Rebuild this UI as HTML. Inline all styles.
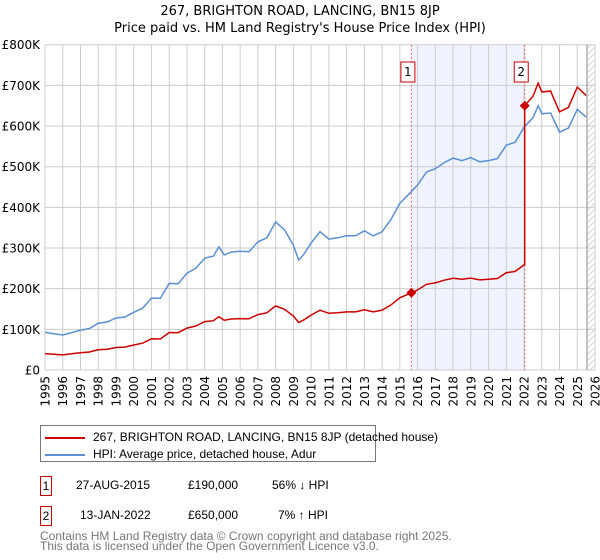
<!DOCTYPE html>
<html><head><meta charset="utf-8"><style>
body{margin:0;background:#fff;font-family:"Liberation Sans","DejaVu Sans",sans-serif;}
#wrap{position:relative;width:600px;height:560px;overflow:hidden;}
svg text{font-family:"DejaVu Sans","Liberation Sans",sans-serif;}
.c{position:absolute;white-space:nowrap;}
</style></head><body>
<div id="wrap">
<svg id="chart" width="600" height="560"></svg>
</div>
<script>
const hpiYears=[1995,1995.5,1996,1996.5,1997,1997.5,1998,1998.5,1999,1999.5,2000,2000.5,2001,2001.5,2002,2002.5,2003,2003.5,2004,2004.5,2004.8,2005.1,2005.5,2006,2006.5,2007,2007.5,2008,2008.5,2009,2009.3,2009.6,2010,2010.5,2011,2011.5,2012,2012.5,2013,2013.5,2014,2014.5,2015,2015.5,2016,2016.5,2017,2017.5,2018,2018.5,2019,2019.5,2020,2020.5,2021,2021.5,2022,2022.5,2022.8,2023,2023.5,2024,2024.5,2025,2025.5];
const hpiValues=[93,89,86,92,98,102,115,118,128,130,142,152,177,176,213,212,238,250,275,280,303,283,290,292,291,315,325,364,345,307,270,285,312,340,322,325,330,330,342,330,340,370,410,432,455,487,495,510,521,515,522,512,515,520,553,560,597,620,650,630,632,585,595,641,622];
const saleDates=[2015.65,2022.04];
const salePrices=[190,650];
const saleLabels=["1","2"];
const yTicks=[0,100,200,300,400,500,600,700,800];
const yTickLabels=["£0","£100K","£200K","£300K","£400K","£500K","£600K","£700K","£800K"];
const xTicks=[1995,1996,1997,1998,1999,2000,2001,2002,2003,2004,2005,2006,2007,2008,2009,2010,2011,2012,2013,2014,2015,2016,2017,2018,2019,2020,2021,2022,2023,2024,2025,2026];

const svg=document.getElementById('chart');
const NS='http://www.w3.org/2000/svg';
const X0=45,X1=595,Y0=370,Y1=44.7;
const xs=v=>X0+(v-1995)/(2026-1995)*(X1-X0);
const ys=v=>Y0-v/800*(Y0-Y1);
function mk(tag,attrs,parent){const e=document.createElementNS(NS,tag);for(const k in attrs)e.setAttribute(k,attrs[k]);(parent||svg).appendChild(e);return e;}
function hpiAt(t){for(let i=0;i<hpiYears.length-1;i++){if(t>=hpiYears[i]&&t<=hpiYears[i+1]){const f=(t-hpiYears[i])/(hpiYears[i+1]-hpiYears[i]);return hpiValues[i]+f*(hpiValues[i+1]-hpiValues[i]);}}return hpiValues[hpiValues.length-1];}

let t;
t=mk('text',{x:300,y:15,'text-anchor':'middle','font-size':'13',fill:'#000'});t.textContent='267, BRIGHTON ROAD, LANCING, BN15 8JP';


t=mk('text',{x:300,y:32,'text-anchor':'middle','font-size':'13',fill:'#000'});t.textContent="Price paid vs. HM Land Registry's House Price Index (HPI)";



let r=mk('rect',{x:xs(saleDates[0]),y:Y1,width:xs(saleDates[1])-xs(saleDates[0]),height:Y0-Y1,fill:'#eef3fd'});


const defs=mk('defs',{});
const pat=mk('pattern',{id:'hatch',width:6,height:6,patternUnits:'userSpaceOnUse'},defs);
mk('path',{d:'M0,6 L6,0',stroke:'#ccc','stroke-width':0.8},pat);
r=mk('rect',{x:xs(2025.55),y:Y1,width:X1-xs(2025.55),height:Y0-Y1,fill:'url(#hatch)'});



yTicks.forEach((v,i)=>{
 const l=mk('line',{x1:X0,x2:X1,y1:ys(v),y2:ys(v),stroke:'#cccccc','stroke-width':1});
 
 
 const tx=mk('text',{x:40,y:ys(v)+4.5,'text-anchor':'end','font-size':'12',fill:'#000'});tx.textContent=yTickLabels[i];
 
 
});
xTicks.forEach(v=>{
 const l=mk('line',{x1:xs(v),x2:xs(v),y1:Y1,y2:Y0,stroke:'#cccccc','stroke-width':1});
 
 
 const tx=mk('text',{x:0,y:0,'text-anchor':'end','font-size':'12',fill:'#000',transform:`translate(${xs(v)+4.5},376) rotate(-90)`});tx.textContent=v;
 
 
});
let l=mk('line',{x1:xs(2025.55),x2:xs(2025.55),y1:Y1,y2:Y0,stroke:'#888','stroke-width':1});



saleDates.forEach((d,i)=>{
 const ln=mk('line',{x1:xs(d),x2:xs(d),y1:Y1,y2:Y0,stroke:'#e06060','stroke-width':1,'stroke-dasharray':'2,2'});
 
 
 const bx=mk('rect',{x:xs(d)-10.5,y:62,width:14,height:20,fill:'#fff',stroke:'#cc0000','stroke-width':1});
 
 
 const tx=mk('text',{x:xs(d)-3.5,y:76,'text-anchor':'middle','font-size':'12',fill:'#000'});tx.textContent=saleLabels[i];
 
 
});

let d='';hpiYears.forEach((yr,i)=>{d+=(i?'L':'M')+xs(yr).toFixed(1)+','+ys(hpiValues[i]).toFixed(1);});
let p=mk('path',{d,fill:'none',stroke:'#5b8fd4','stroke-width':1.5});



const r0=salePrices[0]/hpiAt(saleDates[0]);
const r1=salePrices[1]/hpiAt(saleDates[1]);
d='';let first=true;
hpiYears.forEach((yr,i)=>{
 if(yr<saleDates[1]){d+=(first?'M':'L')+xs(yr).toFixed(1)+','+ys(hpiValues[i]*r0).toFixed(1);first=false;}
});
d+='L'+xs(saleDates[1]).toFixed(1)+','+ys(hpiAt(saleDates[1])*r0).toFixed(1);
d+='L'+xs(saleDates[1]).toFixed(1)+','+ys(salePrices[1]).toFixed(1);
hpiYears.forEach((yr,i)=>{if(yr>saleDates[1])d+='L'+xs(yr).toFixed(1)+','+ys(hpiValues[i]*r1).toFixed(1);});
p=mk('path',{d,fill:'none',stroke:'#cc0000','stroke-width':1.5});


saleDates.forEach((dd,i)=>{
 const c=mk('path',{d:`M${xs(dd)},${ys(salePrices[i])-5}l5,5l-5,5l-5,-5z`,fill:'#cc0000'});
 
 
});
</script>
<div style="position:absolute;left:40px;top:425px;width:334px;height:35px;border:1px solid #777;font-size:12px;">
 <div class="c" style="left:4px;top:4px;"><span style="display:inline-block;width:40px;height:2px;background:#cc0000;vertical-align:middle;margin-right:8px;"></span>267, BRIGHTON ROAD, LANCING, BN15 8JP (detached house)</div>
 <div class="c" style="left:4px;top:21px;"><span style="display:inline-block;width:40px;height:2px;background:#5b8fd4;vertical-align:middle;margin-right:8px;"></span>HPI: Average price, detached house, Adur</div>
</div>
<div style="position:absolute;left:0;top:0;font-size:12px;">
 <div>
  <div class="c" style="left:40px;top:476px;width:10px;height:18px;border:1px solid #cc0000;text-align:center;line-height:18px;">1</div>
  <div class="c" style="left:76px;top:478px;">27-AUG-2015</div>
  <div class="c" style="left:188px;top:478px;">£190,000</div>
  <div class="c" style="left:272px;top:478px;">56% ↓ HPI</div>
 </div>
 <div>
  <div class="c" style="left:40px;top:506px;width:10px;height:18px;border:1px solid #cc0000;text-align:center;line-height:18px;">2</div>
  <div class="c" style="left:80px;top:508px;">13-JAN-2022</div>
  <div class="c" style="left:188px;top:508px;">£650,000</div>
  <div class="c" style="left:278px;top:508px;">7% ↑ HPI</div>
 </div>
</div>
<div class="c" style="left:40px;top:531px;font-size:12px;color:#777;line-height:10px;">Contains HM Land Registry data © Crown copyright and database right 2025.<br>This data is licensed under the Open Government Licence v3.0.</div>
</body></html>
